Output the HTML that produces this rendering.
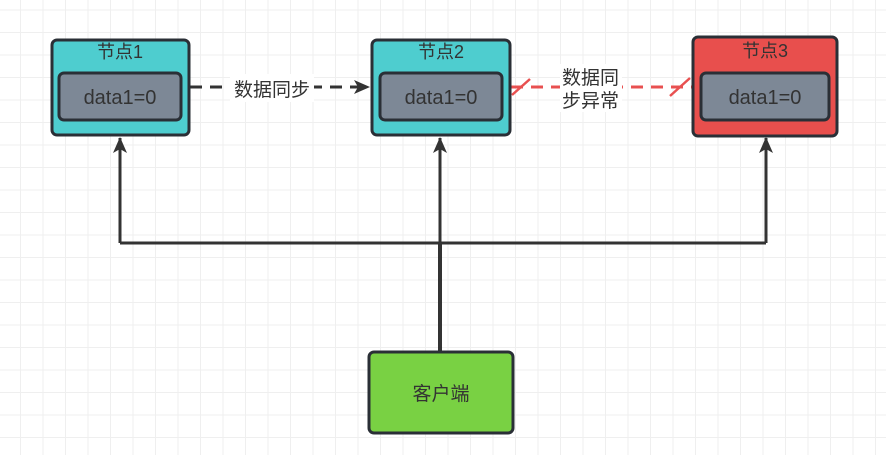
<!DOCTYPE html>
<html><head><meta charset="utf-8"><style>
body{margin:0;width:886px;height:455px;overflow:hidden;background:#fff;
background-image:linear-gradient(#efefef 1px,transparent 1px),linear-gradient(90deg,#efefef 1px,transparent 1px);
background-size:22.5px 22.5px;background-position:20px 9.5px;font-family:"Liberation Sans","Noto Sans CJK SC",sans-serif;}
</style></head><body>
<svg width="886" height="455" style="position:absolute;left:0;top:0" font-family="Liberation Sans, Noto Sans CJK SC, sans-serif">
<defs>
<marker id="b" markerWidth="16" markerHeight="16" refX="15" refY="7" orient="auto" markerUnits="userSpaceOnUse"><path d="M0,0 L16,7 L0,14 L4,7Z" fill="#333"/></marker></defs>
<path d="M440,351 V243" stroke="#333" stroke-width="4"/>
<path d="M120,243 H766" stroke="#333" stroke-width="3" fill="none"/>
<path d="M120,243 V138" stroke="#333" stroke-width="3" marker-end="url(#b)"/>
<path d="M440,243 V138" stroke="#333" stroke-width="3" marker-end="url(#b)"/>
<path d="M766,243 V138" stroke="#333" stroke-width="3" marker-end="url(#b)"/>
<path d="M190,87 H369" stroke="#333" stroke-width="3" stroke-dasharray="12,8" marker-end="url(#b)"/>
<rect x="230" y="74" width="84" height="28" fill="#fff"/>
<text x="272" y="96" font-size="19" text-anchor="middle" fill="#333">数据同步</text>
<path d="M511,87 H693" stroke="#e85050" stroke-width="3" stroke-dasharray="12,8"/>
<path d="M512,95 L530,79 M670,96 L690,78" stroke="#e85050" stroke-width="2.5"/>
<rect x="560" y="64" width="62" height="48" fill="#fff"/>
<text x="562" y="84" font-size="19" fill="#333">数据同</text>
<text x="562" y="107" font-size="19" fill="#333">步异常</text>
<rect x="52" y="40" width="137" height="95" rx="5" fill="#4ecdcf" stroke="#2a2f36" stroke-width="3"/>
<text x="120" y="58" font-size="18" text-anchor="middle" fill="#333">节点1</text>
<rect x="59" y="73" width="122" height="47" rx="5" fill="#7d8896" stroke="#2a2f36" stroke-width="3"/>
<text x="120" y="104" font-size="20" text-anchor="middle" fill="#333">data1=0</text>
<rect x="372" y="40" width="138" height="95" rx="5" fill="#4ecdcf" stroke="#2a2f36" stroke-width="3"/>
<text x="441" y="58" font-size="18" text-anchor="middle" fill="#333">节点2</text>
<rect x="380" y="73" width="122" height="47" rx="5" fill="#7d8896" stroke="#2a2f36" stroke-width="3"/>
<text x="441" y="104" font-size="20" text-anchor="middle" fill="#333">data1=0</text>
<rect x="693" y="37" width="144" height="99" rx="5" fill="#e84f4d" stroke="#2a2f36" stroke-width="3"/>
<text x="765" y="57" font-size="18" text-anchor="middle" fill="#333">节点3</text>
<rect x="701" y="73" width="128" height="47" rx="5" fill="#7d8896" stroke="#2a2f36" stroke-width="3"/>
<text x="765" y="104" font-size="20" text-anchor="middle" fill="#333">data1=0</text>
<rect x="369" y="352" width="144" height="81" rx="5" fill="#79d143" stroke="#2a2f36" stroke-width="3"/>
<text x="441" y="400" font-size="19" text-anchor="middle" fill="#333">客户端</text>
</svg>
</body></html>
